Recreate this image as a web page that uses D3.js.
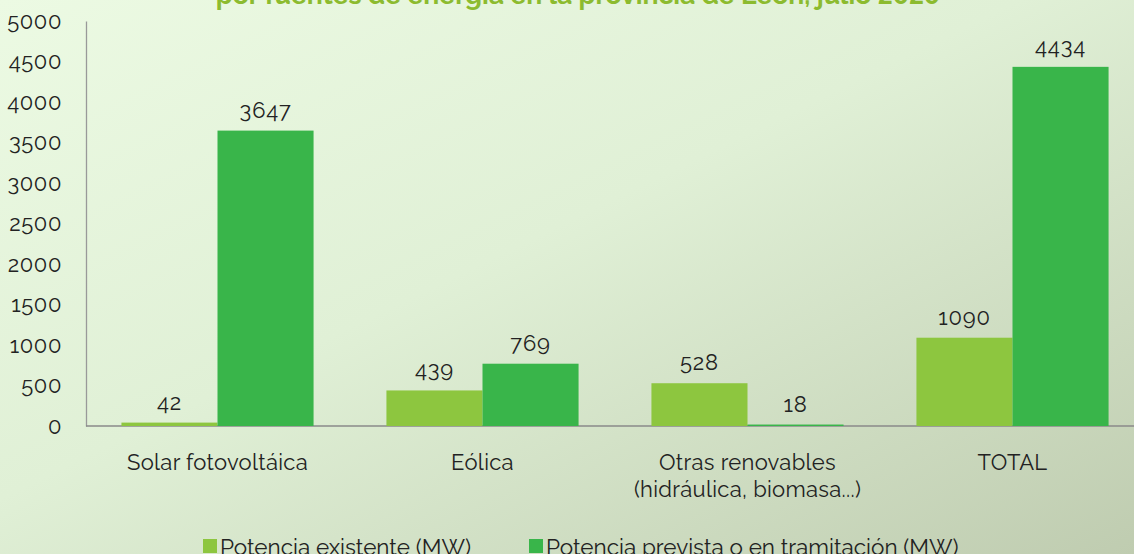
<!DOCTYPE html>
<html><head><meta charset="utf-8">
<script src="https://cdn.jsdelivr.net/npm/d3@7"></script>
<style>
html,body{margin:0;padding:0;overflow:hidden;}
svg{display:block;font-family:Raleway,Lato,"Noto Sans",sans-serif;}
</style></head><body>
<svg id="c" width="1134" height="554"></svg>
<script>
const categories = [["Solar fotovoltáica"], ["Eólica"], ["Otras renovables", "(hidráulica, biomasa...)"], ["TOTAL"]];
const seriesNames = ["Potencia existente (MW)", "Potencia prevista o en tramitación (MW)"];
const existente = [42, 439, 528, 1090];
const prevista = [3647, 769, 18, 4434];
const yTicks = [0, 500, 1000, 1500, 2000, 2500, 3000, 3500, 4000, 4500, 5000];
const title = "por fuentes de energía en la provincia de León, julio 2020";

const colors = ["#8dc63f", "#39b54a"];
const W = 1134, H = 554;
const svg = d3.select("#c");

const defs = svg.append("defs");
const g = defs.append("linearGradient").attr("id","bg").attr("x1","0%").attr("y1","0%").attr("x2","100%").attr("y2","100%");
g.append("stop").attr("offset","0%").attr("stop-color","#ecfae3");
g.append("stop").attr("offset","45%").attr("stop-color","#e0f0d6");
g.append("stop").attr("offset","100%").attr("stop-color","#bfccb0");
svg.append("rect").attr("width",W).attr("height",H).attr("fill","url(#bg)");

const x0 = d3.scaleBand().domain(d3.range(categories.length)).range([85, 1145]).paddingInner(0.275).paddingOuter(0.1375);
const x1 = d3.scaleBand().domain([0,1]).range([0, x0.bandwidth()]);
const y = d3.scaleLinear().domain([0, 5000]).range([426, 21]);

// title (clipped at top)
svg.append("text").attr("x", 578).attr("y", 4).attr("text-anchor","middle")
  .attr("font-size", 26.5).attr("font-weight", "bold").attr("fill", "#8cbb2f").text(title);

// y axis
const yAxis = d3.axisLeft(y).tickValues(yTicks).tickFormat(d3.format("d")).tickSize(0).tickPadding(24);
const ya = svg.append("g").attr("transform","translate(86,0)").call(yAxis);
ya.select(".domain").attr("stroke","#999").attr("stroke-width",1.3);
ya.selectAll("text").attr("font-size",22).attr("letter-spacing",0.6).attr("fill","#222").attr("font-family","Raleway,Lato,'Noto Sans',sans-serif");

// x axis line
svg.append("line").attr("x1",86).attr("x2",1134).attr("y1",y(0)).attr("y2",y(0)).attr("stroke","#8a8a8a").attr("stroke-width",1.5);

const data = categories.map((c,i)=>[existente[i], prevista[i]]);
const grp = svg.append("g").selectAll("g").data(data).join("g")
  .attr("transform",(d,i)=>`translate(${x0(i)},0)`);
grp.selectAll("rect").data(d=>d).join("rect")
  .attr("x",(d,j)=>x1(j)).attr("width",x1.bandwidth())
  .attr("y",d=>y(d)).attr("height",d=>Math.max(y(0)-y(d),0))
  .attr("fill",(d,j)=>colors[j]);
grp.selectAll("text.v").data(d=>d).join("text").attr("class","v")
  .attr("x",(d,j)=>x1(j)+x1.bandwidth()/2).attr("y",d=>y(d)-13)
  .attr("text-anchor","middle").attr("font-size",22).attr("letter-spacing",0.8).attr("fill","#222").text(d=>d);

// category labels
const cl = svg.append("g").selectAll("text").data(categories).join("text")
  .attr("x",(d,i)=>x0(i)+x0.bandwidth()/2).attr("y",470)
  .attr("text-anchor","middle").attr("font-size",22).attr("letter-spacing",0.3).attr("fill","#222");
cl.selectAll("tspan").data(d=>d).join("tspan")
  .attr("x",function(){return this.parentNode.getAttribute("x");})
  .attr("dy",(d,k)=>k===0?0:27).text(d=>d);

// legend
const legX = [203, 529];
const lg = svg.append("g").selectAll("g").data(seriesNames).join("g")
  .attr("transform",(d,i)=>`translate(${legX[i]},0)`);
lg.append("rect").attr("x",0).attr("y",539).attr("width",14).attr("height",14).attr("fill",(d,i)=>colors[i]);
lg.append("text").attr("x",17).attr("y",555).attr("font-size",22.5).attr("fill","#222").text(d=>d);
</script></body></html>
